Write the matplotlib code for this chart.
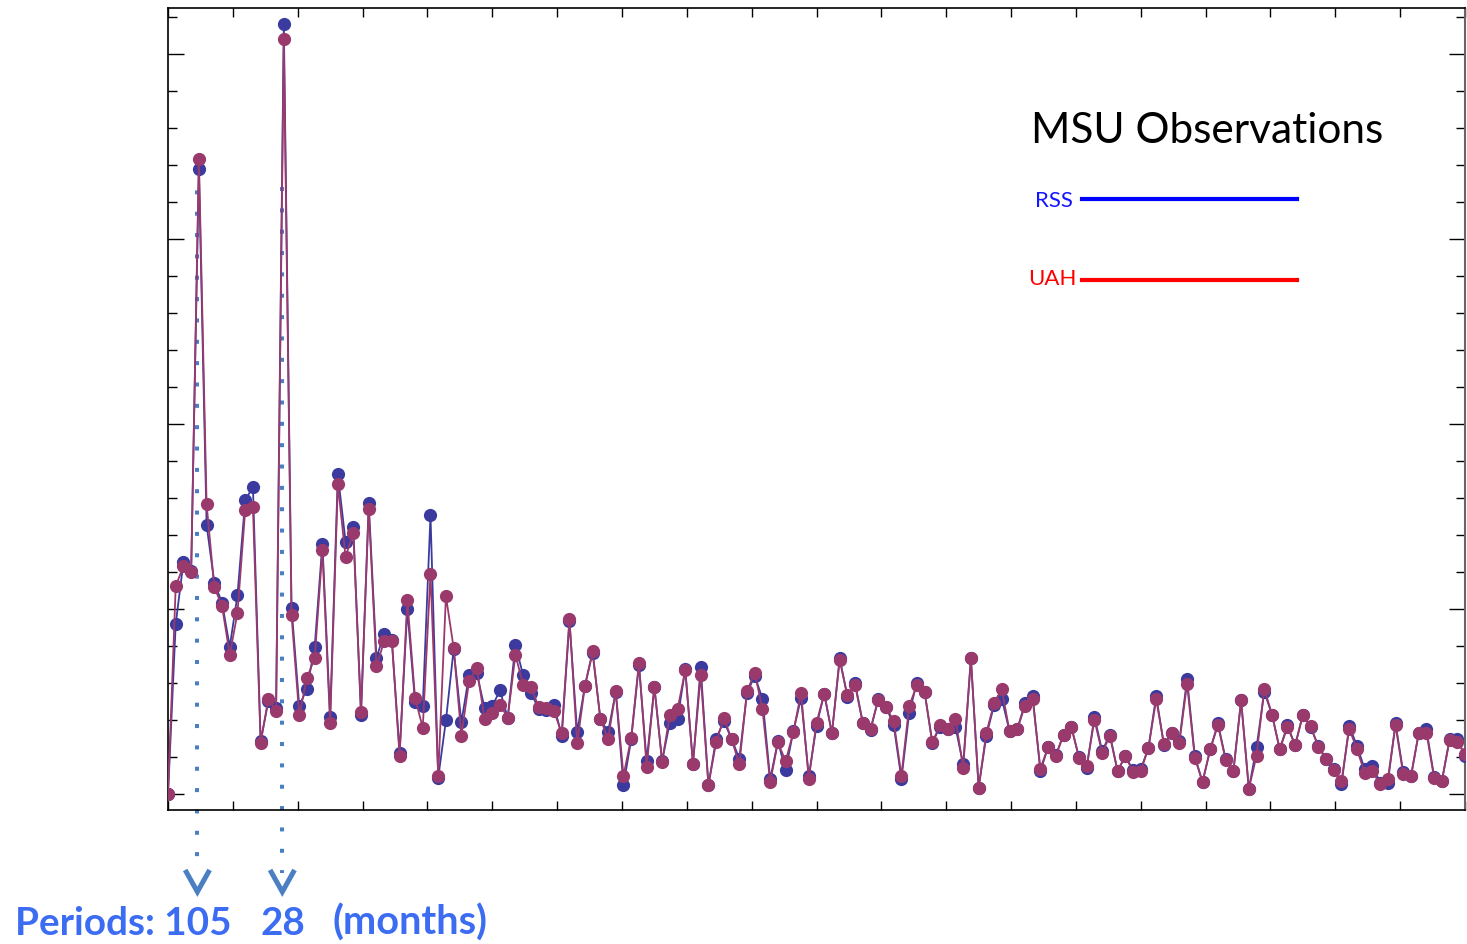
"""
Power spectrum of MSU temperature series (RSS vs UAH), frequency in cycles/month.
Peaks at periods of 105 and 28 months.
"""

import numpy as np
import matplotlib.pyplot as plt
from matplotlib.lines import Line2D
from matplotlib.ticker import MultipleLocator
import matplotlib.transforms as mtransforms

N_MONTHS = 420

# spectral power (arbitrary units), index k -> frequency k/420
rss_power = [
    0.00, 4.61, 6.28, 6.04, 16.91, 7.28, 5.72, 5.18, 3.99, 5.39,
    7.95, 8.31, 1.44, 2.52, 2.34, 20.83, 5.05, 2.39, 2.86, 3.99,
    6.78, 2.10, 8.65, 6.83, 7.23, 2.14, 7.87, 3.69, 4.34, 4.16,
    1.13, 5.00, 2.49, 2.39, 7.55, 0.45, 2.00, 3.92, 1.95, 3.23,
    3.27, 2.34, 2.39, 2.81, 2.07, 4.04, 3.22, 2.75, 2.32, 2.27,
    2.41, 1.58, 4.68, 1.68, 2.93, 3.83, 2.05, 1.68, 2.77, 0.25,
    1.49, 3.51, 0.90, 2.91, 0.90, 1.94, 2.05, 3.38, 0.83, 3.45,
    0.25, 1.51, 1.98, 1.50, 0.97, 2.75, 3.20, 2.59, 0.41, 1.44,
    0.65, 1.71, 2.61, 0.49, 1.86, 2.72, 1.65, 3.69, 2.64, 3.00,
    1.94, 1.74, 2.59, 2.37, 1.87, 0.42, 2.19, 3.02, 2.77, 1.40,
    1.82, 1.76, 1.82, 0.81, 3.68, 0.18, 1.59, 2.41, 2.59, 1.71,
    1.76, 2.46, 2.66, 0.63, 1.28, 1.06, 1.62, 1.83, 1.01, 0.72,
    2.10, 1.17, 1.62, 0.63, 1.04, 0.66, 0.68, 1.26, 2.66, 1.33,
    1.65, 1.44, 3.13, 1.04, 0.33, 1.22, 1.92, 0.95, 0.63, 2.54,
    0.15, 1.28, 2.77, 2.16, 1.22, 1.87, 1.33, 2.16, 1.82, 1.31,
    0.97, 0.68, 0.27, 1.85, 1.32, 0.69, 0.78, 0.32, 0.32, 1.92,
    0.60, 0.49, 1.65, 1.76, 0.48, 0.36, 1.49, 1.50, 1.04, 0.60,
]

uah_power = [
    0.00, 5.63, 6.17, 6.01, 17.18, 7.84, 5.60, 5.09, 3.77, 4.91,
    7.68, 7.76, 1.40, 2.59, 2.25, 20.40, 4.84, 2.14, 3.15, 3.68,
    6.60, 1.92, 8.38, 6.42, 7.07, 2.24, 7.72, 3.47, 4.14, 4.14,
    1.04, 5.25, 2.61, 1.80, 5.97, 0.51, 5.36, 3.96, 1.59, 3.06,
    3.41, 2.05, 2.21, 2.43, 2.07, 3.77, 2.97, 2.91, 2.37, 2.34,
    2.25, 1.65, 4.75, 1.38, 2.93, 3.87, 2.05, 1.50, 2.79, 0.51,
    1.53, 3.56, 0.74, 2.91, 0.88, 2.16, 2.30, 3.36, 0.83, 3.23,
    0.25, 1.41, 2.07, 1.50, 0.81, 2.79, 3.29, 2.30, 0.33, 1.41,
    0.90, 1.68, 2.75, 0.42, 1.94, 2.72, 1.65, 3.63, 2.68, 2.95,
    1.92, 1.78, 2.55, 2.37, 1.98, 0.51, 2.39, 2.95, 2.77, 1.41,
    1.87, 1.76, 2.05, 0.72, 3.68, 0.18, 1.67, 2.46, 2.84, 1.71,
    1.76, 2.39, 2.57, 0.70, 1.28, 1.04, 1.62, 1.83, 0.99, 0.77,
    2.01, 1.13, 1.58, 0.63, 1.04, 0.61, 0.63, 1.26, 2.57, 1.37,
    1.65, 1.40, 2.99, 0.99, 0.34, 1.22, 1.87, 0.93, 0.63, 2.54,
    0.15, 1.05, 2.86, 2.16, 1.22, 1.82, 1.33, 2.14, 1.85, 1.28,
    0.95, 0.66, 0.36, 1.78, 1.22, 0.59, 0.63, 0.27, 0.41, 1.87,
    0.54, 0.49, 1.65, 1.67, 0.45, 0.36, 1.47, 1.42, 1.08, 0.60,
]

# marked periods (months) and where the dotted guides start (power units)
periods = [105, 28]
guide_tops = [16.9, 16.4]

freq = np.arange(len(rss_power)) / N_MONTHS

W, H = 1467, 944
fig = plt.figure(figsize=(W / 100, H / 100), dpi=100)
ax = fig.add_axes([168 / W, 1 - 810 / H, (1465 - 168) / W, (810 - 8) / H])

ax.plot(freq, rss_power, '-o', color='#3b3b9f', lw=1.3, ms=9.5, mew=0, zorder=3)
ax.plot(freq, uah_power, '-o', color='#9a3a6c', lw=1.3, ms=9.5, mew=0, zorder=4)

ax.set_xlim(0, 0.4)
ax.set_ylim(-0.42, 21.25)
ax.xaxis.set_major_locator(MultipleLocator(0.02))
ax.yaxis.set_major_locator(MultipleLocator(5))
ax.yaxis.set_minor_locator(MultipleLocator(1))
ax.tick_params(axis='x', which='major', direction='in', top=True, bottom=True,
               length=6.5, width=1, labelbottom=False)
ax.tick_params(axis='y', which='major', direction='in', left=True, right=True,
               length=11.5, width=1, labelleft=False)
ax.tick_params(axis='y', which='minor', direction='in', left=True, right=True,
               length=6.5, width=1)
for side in ['left', 'bottom', 'top']:
    ax.spines[side].set_linewidth(1.2)
ax.spines['right'].set_color('#666666')
ax.spines['right'].set_linewidth(1.5)

# dotted guides from the peaks down to the period labels
trans = mtransforms.blended_transform_factory(ax.transData, ax.transAxes)
half_w = 11 / ((1465 - 168) / 0.4)
shift = -1.5 / ((1465 - 168) / 0.4)
for p, top in zip(periods, guide_tops):
    f = 1.0 / p + shift
    y_top = (top + 0.42) / 21.67
    ax.plot([f, f], [y_top, -0.079], transform=trans, color='#4a7fc3', lw=2.9,
            linestyle=(0, (1, 4.3)), dash_capstyle='butt', clip_on=False, zorder=2)
    ax.plot([f - half_w, f, f + half_w], [-0.0775, -0.102, -0.0775], transform=trans,
            color='#4a7fc3', lw=3.6, solid_joinstyle='miter', clip_on=False)

blue_txt = '#3b6cf2'
fig.text(15 / W, 1 - 935 / H, 'Periods: 105', fontsize=27.8, fontweight='bold',
         color=blue_txt, family='Lato', va='baseline', ha='left')
fig.text(261 / W, 1 - 935 / H, '28', fontsize=27.8, fontweight='bold',
         color=blue_txt, family='Lato', va='baseline', ha='left')
fig.text(333 / W, 1 - 935 / H, '(months)', fontsize=28.5, fontweight='bold',
         color=blue_txt, family='Lato', va='baseline', ha='left')

# legend block
fig.text(1031 / W, 1 - 143 / H, 'MSU Observations', fontsize=30.5, color='black',
         family='Lato', va='baseline', ha='left')
fig.text(1073 / W, 1 - 201 / H, 'RSS', fontsize=16, color='#1414ff',
         family='Lato', va='center', ha='right')
fig.text(1077 / W, 1 - 279 / H, 'UAH', fontsize=16, color='#ff0000',
         family='Lato', va='center', ha='right')
fig.add_artist(Line2D([1082 / W, 1297 / W], [1 - 199 / H] * 2, color='#0000ff', lw=3))
fig.add_artist(Line2D([1082 / W, 1297 / W], [1 - 280 / H] * 2, color='#ff0000', lw=3))

fig.savefig('out.png', dpi=100)
